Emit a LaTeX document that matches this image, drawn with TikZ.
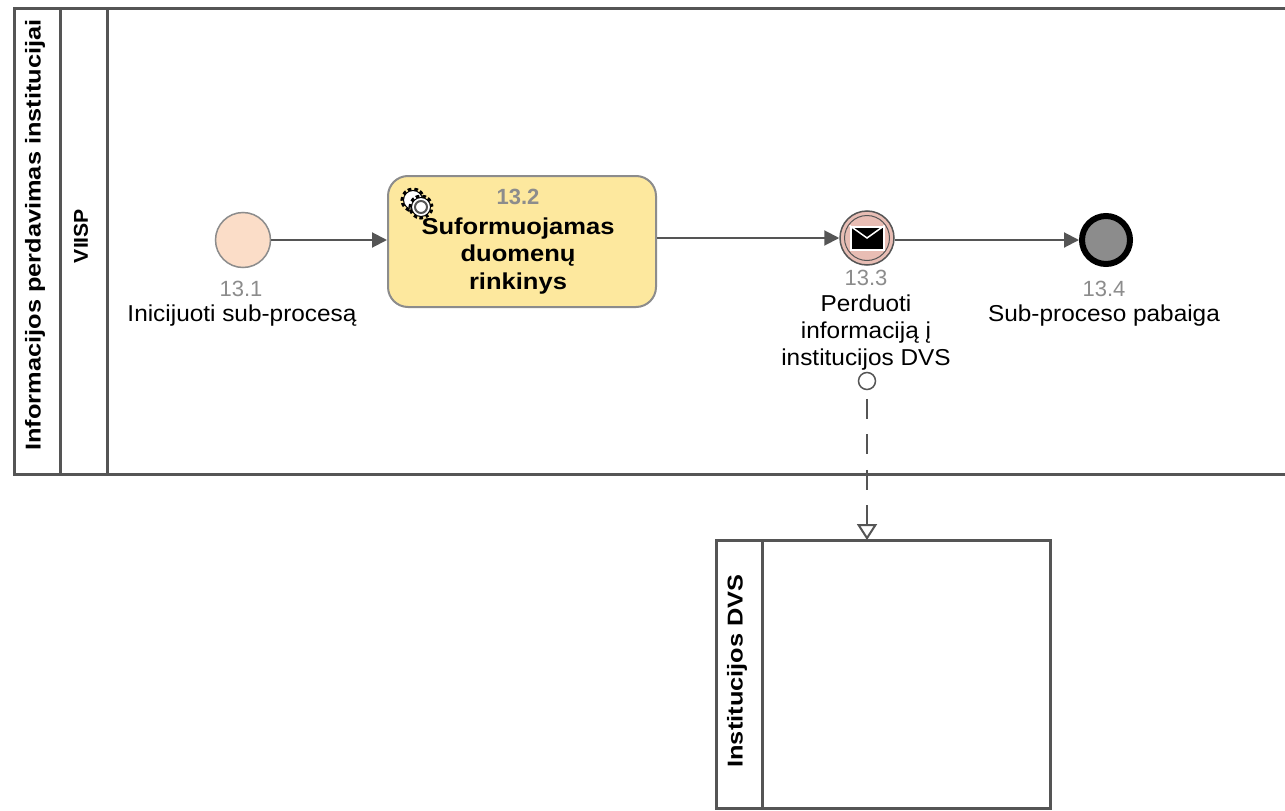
\documentclass[tikz,border=0pt]{standalone}
\usepackage{xcolor}
\usepackage{fontspec}
\setmainfont{Liberation Sans}
\newfontfamily\capfont[FakeStretch=1.06]{Liberation Sans}
\newfontfamily\taskfont[FakeStretch=1.11]{Liberation Sans}
\newfontfamily\wideFont[FakeStretch=1.18]{Liberation Sans}
\usetikzlibrary{arrows.meta,positioning}
\definecolor{lineGray}{HTML}{555555}
\definecolor{numGray}{HTML}{8C8C8C}
\definecolor{startFill}{HTML}{FBDDC8}
\definecolor{taskFill}{HTML}{FDE89E}
\definecolor{msgFill}{HTML}{E8BDB4}
\tikzset{
    pool/.style={draw=lineGray, line width=3pt, inner sep=0pt, outer sep=0pt},
    poolname/.style={rotate=90, font=\wideFont\fontsize{21.5}{24}\selectfont\bfseries},
    num/.style={text=numGray, font=\fontsize{22}{26}\selectfont},
    caption/.style={align=center, font=\capfont\fontsize{23}{27}\selectfont},
    flow/.style={draw=lineGray, line width=2pt, -{Triangle[length=15pt,width=15pt]}},
    gear/.style={circle, draw=black, line width=1pt, fill=white, minimum size=19pt, inner sep=0pt,
        preaction={draw=black, dash pattern=on 3pt off 2.4pt, line width=6pt}},
}
\begin{document}
\begin{tikzpicture}[x=1pt, y=-1pt]
    \useasboundingbox (0,0) rectangle (1285,811);

    % pools
    \draw[pool, fill=white] (14,8) rectangle (1300,474);
    \draw[pool] (60,8) -- (60,474);
    \draw[pool] (107,8) -- (107,474);
    \draw[pool, fill=white] (716,540) rectangle (1050,808);
    \draw[pool] (762,540) -- (762,808);
    \node (procName) [poolname] at (35,235) {Informacijos perdavimas institucijai};
    \node (viisp) [poolname, font=\capfont\fontsize{20}{24}\selectfont\bfseries] at (81,236) {VIISP};
    \node (dvsName) [poolname] at (737,671) {Institucijos DVS};
    \coordinate (dvsTop) at (867,540);

    % flow objects
    \node (start) [circle, draw=numGray, line width=1.5pt, fill=startFill, minimum size=55pt, inner sep=0pt] at (243,240) {};
    \node (task) [rectangle, rounded corners=20pt, draw=numGray, line width=2pt, fill=taskFill, minimum width=268pt, minimum height=131pt] at (522,241.5) {};
    \node (msg) [circle, draw=lineGray, line width=1.5pt, fill=msgFill, minimum size=54pt, inner sep=0pt] at (867,238) {};
    \node (msgIn) [circle, draw=lineGray, line width=1pt, minimum size=45pt, inner sep=0pt] at (msg) {};
    \node (envelope) [rectangle, draw=white, line width=2pt, fill=black, minimum width=33pt, minimum height=23pt, inner sep=0pt] at (msg) {};
    \draw[white, line width=1.5pt] (envelope.north west) -- (envelope.center) -- (envelope.north east);
    \node (end) [circle, draw=black, line width=6pt, fill=numGray, minimum size=48pt, inner sep=0pt] at (1106,240) {};
    \node (ring) [circle, draw=lineGray, line width=1.5pt, fill=white, minimum size=17pt, inner sep=0pt] at (867,381) {};

    % gear of the task
    \node (gearA) [gear] at (413,200) {};
    \node (gearB) [gear] at (421,207) {};
    \node (gearC) [circle, draw=lineGray, line width=2pt, fill=white, minimum size=12pt, inner sep=0pt] at (gearB) {};

    % labels
    \node (taskNum) [text=numGray, font=\fontsize{22}{26}\selectfont\bfseries] at (518,197) {13.2};
    \node (taskText) [align=center, font=\taskfont\fontsize{23}{27.5}\selectfont\bfseries] at (518,256) {Suformuojamas\\duomenų\\rinkinys};
    \node (startNum) [num] at (241,289) {13.1};
    \node (startText) [caption] at (242,316) {Inicijuoti sub-procesą};
    \node (msgNum) [num] at (866,278) {13.3};
    \node (msgText) [caption] at (866,333) {Perduoti\\informaciją į\\institucijos DVS};
    \node (endNum) [num] at (1104,289) {13.4};
    \node (endText) [caption] at (1104,316) {Sub-proceso pabaiga};

    % connectors
    \draw[flow] (start) -- (task.west |- start);
    \draw[flow] (task.east |- msg) -- (msg);
    \draw[flow] (msg.east |- end) -- (end);
    \draw[draw=lineGray, line width=2pt, dash pattern=on 20pt off 15.5pt, dash phase=-8.5pt, -{Triangle[open, fill=white, length=16pt, width=20pt]}] (ring) -- (dvsTop);
\end{tikzpicture}
\end{document}
